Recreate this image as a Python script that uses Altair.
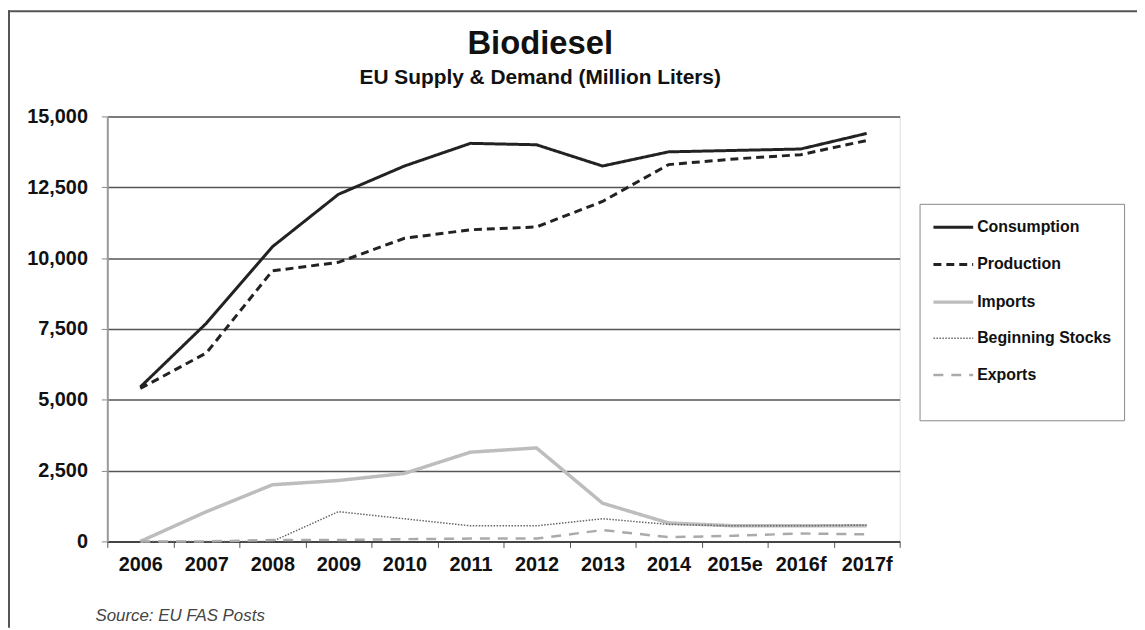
import altair as alt
import pandas as pd

years = ["2006", "2007", "2008", "2009", "2010", "2011", "2012", "2013", "2014", "2015e", "2016f", "2017f"]
series_names = ["Consumption", "Production", "Imports", "Beginning Stocks", "Exports"]
consumption = [5450, 7700, 10400, 12250, 13250, 14050, 14000, 13250, 13750, 13800, 13850, 14400]
production = [5400, 6650, 9550, 9850, 10700, 11000, 11100, 12000, 13300, 13500, 13650, 14150]
imports = [0, 1050, 2000, 2150, 2400, 3150, 3300, 1350, 650, 550, 550, 550]
beginning_stocks = [0, 0, 0, 1050, 800, 550, 550, 800, 600, 550, 550, 575]
exports = [0, 0, 50, 50, 80, 100, 100, 400, 150, 200, 280, 250]

colors = ["#222222", "#222222", "#bdbdbd", "#666666", "#aaaaaa"]
dashes = [[1, 0], [8, 5], [1, 0], [1.5, 1.5], [10, 8]]
widths = [3, 3, 3.5, 1.5, 2.5]

values = [consumption, production, imports, beginning_stocks, exports]
rows = []
for name, vals in zip(series_names, values):
    for y, v in zip(years, vals):
        rows.append({"year": y, "value": v, "series": name})
df = pd.DataFrame(rows)

FONT = "Liberation Sans"

x_enc = alt.X(
    "year:N",
    sort=years,
    bandPosition=0.5,
    scale=alt.Scale(type="band", paddingInner=0, paddingOuter=0),
    axis=alt.Axis(
        title=None, labelAngle=0, tickBand="extent", tickSize=6, tickColor="#555",
        domainColor="#333", domainWidth=1.5, labelFont=FONT, labelFontSize=20,
        labelFontWeight="bold", labelColor="#111", labelPadding=7, grid=False,
    ),
)
y_enc = alt.Y(
    "value:Q",
    scale=alt.Scale(domain=[0, 15000], nice=False),
    axis=alt.Axis(
        title=None, values=[0, 2500, 5000, 7500, 10000, 12500, 15000], format=",.0f",
        tickSize=6, tickColor="#888", domainColor="#999", domainWidth=2,
        gridColor="#555", gridWidth=1.5, labelFont=FONT, labelFontSize=20,
        labelFontWeight="bold", labelColor="#111", labelPadding=14,
    ),
)

legend = alt.Legend(
    title=" ", titleOrient="bottom", titleFontSize=10, titlePadding=15,
    orient="none", legendX=818, legendY=88,
    symbolType="M-1,0H3", symbolSize=400, labelFont=FONT, labelFontSize=16,
    labelFontWeight="bold", labelColor="#111", labelOffset=22,
    rowPadding=17.5, padding=12, strokeColor="#888", fillColor="white",
    labelLimit=300,
)

lines = alt.Chart(df).mark_line(strokeCap="butt", strokeJoin="miter").encode(
    x=x_enc,
    y=y_enc,
    color=alt.Color("series:N", scale=alt.Scale(domain=series_names, range=colors), legend=legend),
    strokeDash=alt.StrokeDash("series:N", scale=alt.Scale(domain=series_names, range=dashes), legend=legend),
    strokeWidth=alt.StrokeWidth("series:N", scale=alt.Scale(type="ordinal", domain=series_names, range=widths), legend=legend),
    order=alt.Order("ord:Q"),
).transform_calculate(ord="indexof(['Exports','Beginning Stocks','Imports','Production','Consumption'], datum.series)")

note = alt.Chart(pd.DataFrame({"t": ["Source: EU FAS Posts"]})).mark_text(
    align="left", baseline="alphabetic", font=FONT, fontSize=17, fontStyle="italic", color="#444"
).encode(x=alt.value(-12), y=alt.value(508), text="t:N")

frame_top = alt.Chart(pd.DataFrame({"a": [0]})).mark_rule(color="#555", strokeWidth=2).encode(
    x=alt.value(-100), x2=alt.value(1037), y=alt.value(-106)
)
frame_left = alt.Chart(pd.DataFrame({"a": [0]})).mark_rule(color="#555", strokeWidth=2).encode(
    x=alt.value(-99), y=alt.value(-107), y2=alt.value(515)
)

chart = alt.layer(lines, note, frame_top, frame_left).properties(
    width=798,
    height=428,
    autosize=alt.AutoSizeParams(type="none"),
    padding={"left": 100, "top": 107, "right": 239, "bottom": 87},
    title=alt.TitleParams(
        text="Biodiesel", subtitle="EU Supply & Demand (Million Liters)",
        font=FONT, fontSize=33, fontWeight="bold", color="#111",
        subtitleFont=FONT, subtitleFontSize=21, subtitleFontWeight="bold", subtitleColor="#111",
        anchor="middle", frame="group", dx=37, offset=-79, subtitlePadding=6,
    ),
).configure_view(stroke="#c8c8c8", strokeWidth=2).configure(background="white")

chart.save("out.html", embed_options={"renderer": "svg", "actions": False})
